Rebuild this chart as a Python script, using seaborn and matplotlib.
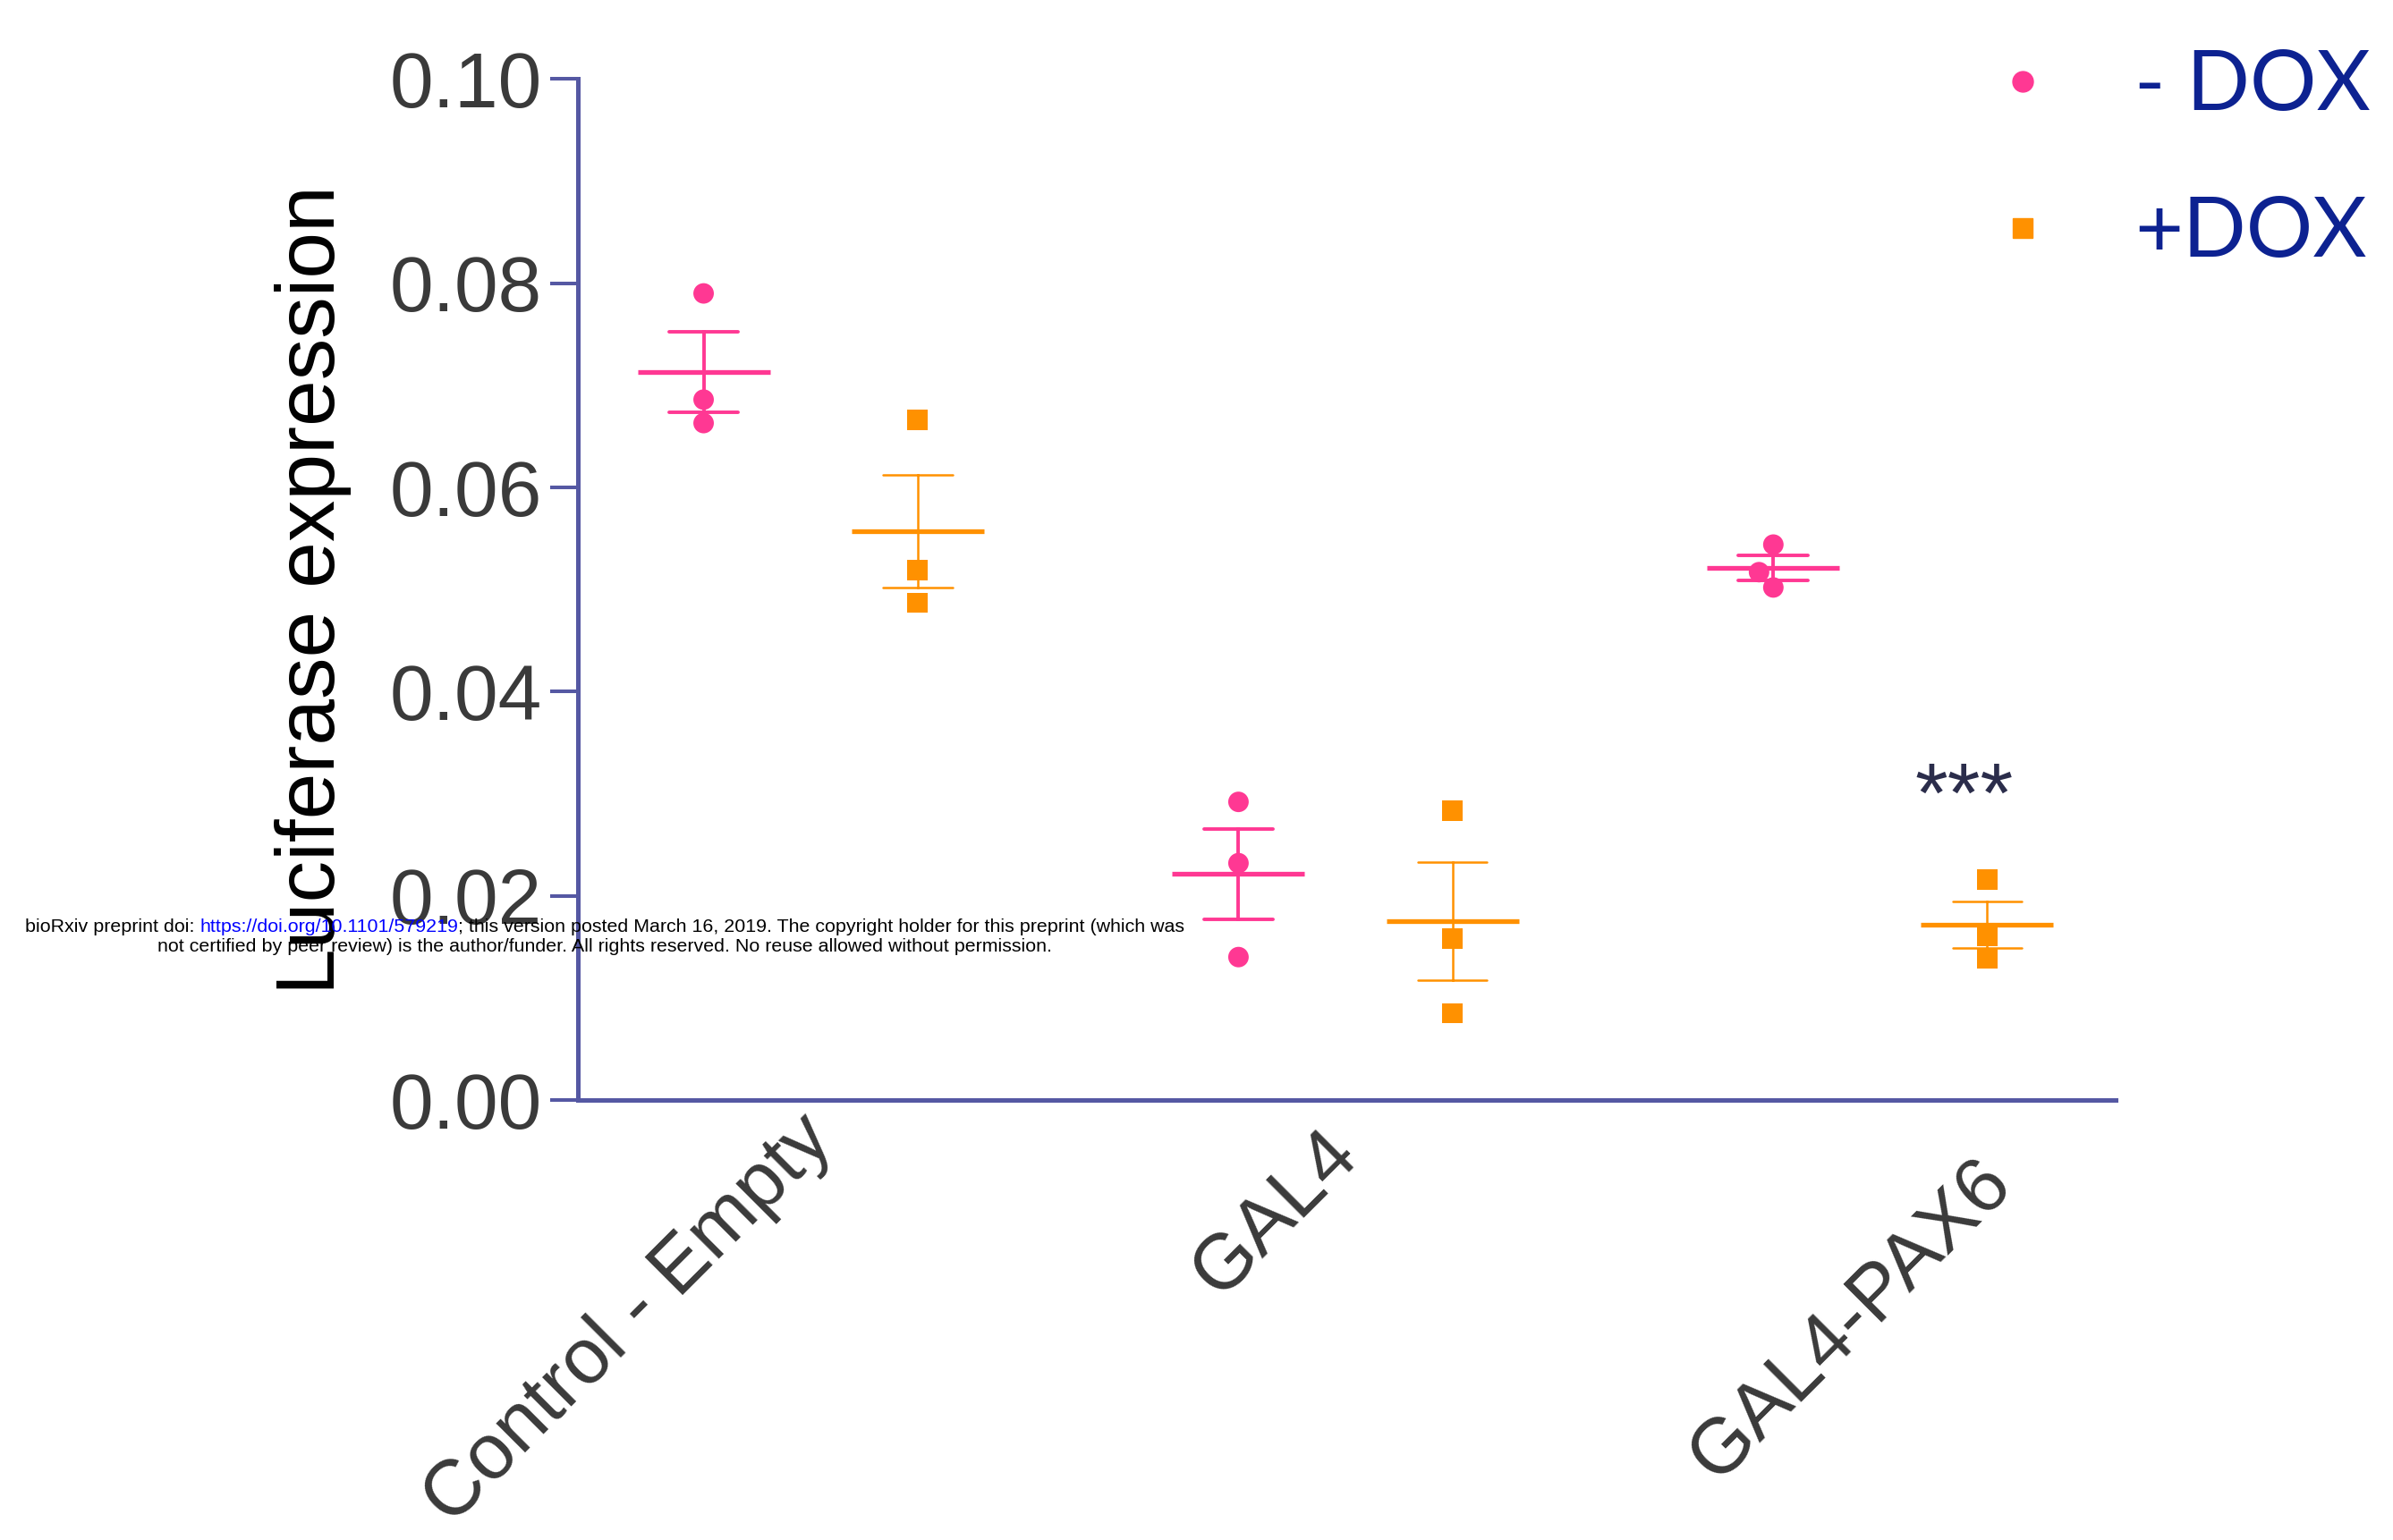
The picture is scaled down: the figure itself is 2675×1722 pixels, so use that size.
import matplotlib
matplotlib.use("Agg")
import matplotlib.pyplot as plt
import matplotlib.transforms as mtransforms
from matplotlib.lines import Line2D
from matplotlib.ticker import FormatStrFormatter
import pandas as pd
import seaborn as sns

## data (3 replicates per group)
groups = ["Control - Empty", "GAL4", "GAL4-PAX6"]
conditions = ["- DOX", "+DOX"]
minus_dox = [[0.0790, 0.0686, 0.0663],
             [0.0292, 0.0232, 0.0140],
             [0.0544, 0.0517, 0.0502]]
plus_dox = [[0.0666, 0.0519, 0.0487],
            [0.0283, 0.0158, 0.0085],
            [0.0216, 0.0161, 0.0139]]
y_ticks = [0.00, 0.02, 0.04, 0.06, 0.08, 0.10]

rows = []
for cond, vals in zip(conditions, [minus_dox, plus_dox]):
    for g, reps in zip(groups, vals):
        for v in reps:
            rows.append({"group": g, "condition": cond, "value": v})
df = pd.DataFrame(rows)

palette = {"- DOX": "#ff3893", "+DOX": "#ff9100"}
markers = {"- DOX": "o", "+DOX": "s"}
err_width = {"- DOX": 2.8, "+DOX": 1.8}
spine_color = "#5558a3"
tick_color = "#3a3a3a"

sns.set_style("ticks")
plt.rcParams["font.family"] = ["Liberation Sans", "DejaVu Sans"]

fig = plt.figure(figsize=(26.75, 17.22), dpi=100)
ax = fig.add_axes([0.2415, 0.2857, 0.6426, 0.663])

## points + mean/SEM, one condition at a time so marker and line width can differ
for cond in conditions:
    sub = df[df["condition"] == cond]
    sns.swarmplot(data=sub, x="group", y="value", hue="condition",
                  order=groups, hue_order=conditions, palette=palette,
                  dodge=True, size=16.5, marker=markers[cond],
                  linewidth=0, zorder=3, legend=False, ax=ax)
    sns.pointplot(data=sub, x="group", y="value", hue="condition",
                  order=groups, hue_order=conditions, palette=palette,
                  dodge=0.4, errorbar="se", capsize=0.13, markers="_",
                  markersize=107, markeredgewidth=3.8, linestyle="none",
                  err_kws={"linewidth": err_width[cond]}, legend=False, ax=ax)

ax.set_xlim(-0.435, 2.44)
ax.set_ylim(0, 0.1)
ax.set_yticks(y_ticks)
ax.yaxis.set_major_formatter(FormatStrFormatter("%.2f"))

for s in ["top", "right"]:
    ax.spines[s].set_visible(False)
for s in ["left", "bottom"]:
    ax.spines[s].set_color(spine_color)
    ax.spines[s].set_linewidth(3.6)

ax.tick_params(axis="y", length=22, width=2.9, color=spine_color,
               labelsize=63, labelcolor=tick_color, pad=7)
ax.tick_params(axis="x", length=0, labelsize=63, labelcolor=tick_color, pad=0)
ax.set_xticks(range(len(groups)), groups, rotation=45, ha="right", va="top",
              rotation_mode="anchor")
ax.set_xlabel("")
ax.set_ylabel("Luciferase expression", fontsize=67, color="black")
ax.yaxis.set_label_coords(-0.147, 0.5)

## nudge the rotated labels to where they sit in the original
label_shift = [(-11.8, -1.9), (-19.7, -13.7), (75.8, -36.9)]
for lab, (dx, dy) in zip(ax.get_xticklabels(), label_shift):
    lab.set_transform(lab.get_transform() +
                      mtransforms.ScaledTranslation(dx / 72, dy / 72, fig.dpi_scale_trans))

## significance mark
ax.text(2.157, 0.0273, "***", ha="center", va="baseline",
        fontsize=68, color="#2b2d4b")

## legend
handles = [Line2D([], [], linestyle="none", marker=markers[c], markersize=16.5,
                  color=palette[c]) for c in conditions]
ax.legend(handles, conditions, loc="upper left", bbox_to_anchor=(0.8277, 0.968),
          bbox_transform=fig.transFigure, frameon=False,
          prop={"family": "Lato", "size": 67}, labelcolor="#0d2291",
          handlelength=1, handletextpad=0.85, labelspacing=0.86,
          borderpad=0, borderaxespad=0)

## bioRxiv watermark
pre = "bioRxiv preprint doi: "
link = "https://doi.org/10.1101/579219"
post = "; this version posted March 16, 2019. The copyright holder for this preprint (which was"
line2 = ("not certified by peer review) is the author/funder. All rights reserved. "
         "No reuse allowed without permission.")
wm_x, wm_y1, wm_y2, wm_size = 0.2527, 0.3949, 0.3822, 15.4

renderer = fig.canvas.get_renderer()
probe = fig.text(wm_x, wm_y1, pre + link + post, fontsize=wm_size,
                 ha="center", va="baseline")
x_left = probe.get_window_extent(renderer).x0 / fig.bbox.width
probe.remove()
t1 = fig.text(x_left, wm_y1, pre, fontsize=wm_size, ha="left", va="baseline",
              color="black")
t2 = ax.annotate(link, xy=(1, 0), xycoords=t1, ha="left", va="bottom",
                 fontsize=wm_size, color="#0000ff")
ax.annotate(post, xy=(1, 0), xycoords=t2, ha="left", va="bottom",
            fontsize=wm_size, color="black")
fig.text(wm_x, wm_y2, line2, fontsize=wm_size, ha="center", va="baseline",
         color="black")

fig.savefig("out.png", dpi=100)
